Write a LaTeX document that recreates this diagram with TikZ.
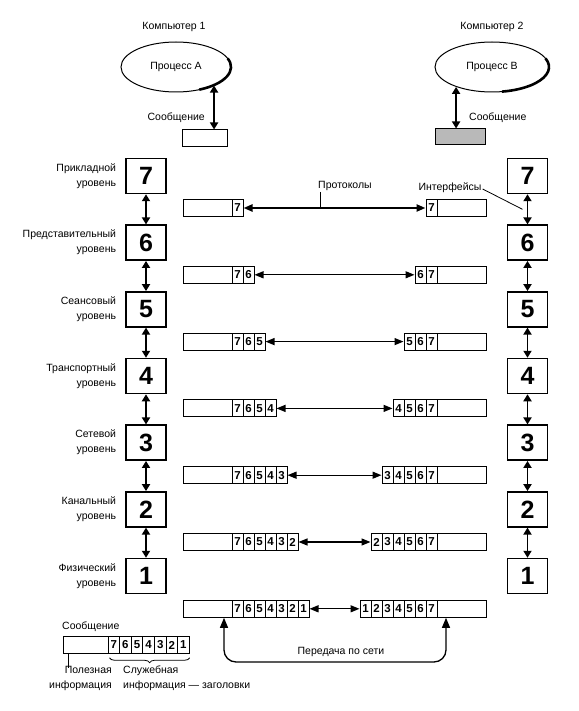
\documentclass[tikz,border=0pt]{standalone}
\usepackage{fontspec}
\setmainfont{Liberation Sans}
\usetikzlibrary{arrows.meta,shapes.geometric,decorations.pathreplacing,calc}
\begin{document}
\begin{tikzpicture}[x=1pt,y=1pt]
\tikzset{
 lay/.style={draw, line width=1.5pt, minimum width=40pt, minimum height=35pt, inner sep=0pt, font=\fontsize{25}{25}\selectfont\bfseries},
 pay/.style={draw, line width=1pt, minimum width=49pt, minimum height=17pt, inner sep=0pt},
 cellb/.style={draw, line width=1pt, minimum width=11pt, minimum height=17pt, inner sep=0pt, font=\fontsize{11.5}{11.5}\selectfont\bfseries},
 lbl/.style={inner sep=1pt, font=\fontsize{10.5}{15}\selectfont},
 harrow/.style={line width=1.3pt, {Triangle[length=9pt,width=7pt]}-{Triangle[length=9pt,width=7pt]}},
 varrow/.style={line width=1.8pt, {Triangle[length=7pt,width=8pt]}-{Triangle[length=7pt,width=8pt]}},
 proc/.style={ellipse, draw, line width=1pt, inner sep=0pt, font=\fontsize{10.5}{12}\selectfont},
 thin/.style={line width=0.8pt},
}
\useasboundingbox (0,0) rectangle (578,-711);

% top
\node[lbl] (K1) at (174,-27) {Компьютер 1};
\node[lbl] (K2) at (492,-27) {Компьютер 2};
\node[proc, minimum width=110pt, minimum height=50pt] (EA) at (176,-67) {Процесс А};
\node[proc, minimum width=114pt, minimum height=50pt] (EB) at (492,-67) {Процесс В};
\draw[line width=2.6pt] (EA.center) ++(20:55pt and 25pt) arc[start angle=20, end angle=-65, x radius=55pt, y radius=25pt];
\draw[line width=2.6pt] (EB.center) ++(20:57pt and 25pt) arc[start angle=20, end angle=-80, x radius=57pt, y radius=25pt];
\node[draw, line width=1pt, minimum width=45pt, minimum height=17pt, inner sep=0pt] (MA) at (204.5,-138.5) {};
\node[draw, line width=1pt, fill=gray!55, minimum width=50pt, minimum height=16pt, inner sep=0pt] (MB) at (460,-137) {};
\draw[varrow] (EA.-26.6) -- (EA.-26.6 |- MA.north);
\draw[varrow] (EB.-151.7) -- (EB.-151.7 |- MB.north);
\node[lbl, anchor=east] (SA) at (206,-118) {Сообщение};
\node[lbl, anchor=west] (SB) at (468,-118) {Сообщение};

% layers
\foreach \k/\nm in {7/Прикладной,6/Представительный,5/Сеансовый,4/Транспортный,3/Сетевой,2/Канальный,1/Физический} {
  \pgfmathsetmacro{\yb}{-(176+(7-\k)*66.67)}
  \node[lay] (L\k) at (146,\yb) {\k};
  \node[lay] (R\k) at (527.5,\yb) {\k};
  \node[lbl, anchor=east, align=right] (T\k) at ($(L\k.west)+(-8,0)$) {\nm\\уровень};
}
\foreach \k [evaluate=\k as \m using int(\k-1)] in {7,...,2} {
  \draw[varrow] (L\k.south) -- (L\m.north);
  \draw[varrow] (R\k.south) -- (R\m.north);
}

% message rows
\foreach \k in {7,...,1} {
  \pgfmathsetmacro{\yr}{-(208+(7-\k)*66.8)}
  \node[pay] (PL\k) at (207.5,\yr) {};
  \node[pay] (PR\k) at (461.5,\yr) {};
  \foreach \d in {\k,...,7} {
    \pgfmathsetmacro{\xc}{232+11*(7-\d)+5.5}
    \node[cellb] (CL\k-\d) at (\xc,\yr) {\d};
    \pgfmathsetmacro{\xr}{437-11*(7-\d)-5.5}
    \node[cellb] (CR\k-\d) at (\xr,\yr) {\d};
  }
  \pgfmathsetmacro{\lw}{\k==7 ? 2.2 : 1.3}
  \draw[harrow, line width=\lw pt] (CL\k-\k.east) -- (CR\k-\k.west);
}

% protocol / interface labels
\node[lbl] (PRT) at (345,-186) {Протоколы};
\coordinate (pt) at ($(PRT.south west)+(3,0)$);
\draw[thin] (pt) -- (pt |- PL7.center);
\node[lbl] (IF) at (450,-188) {Интерфейсы};
\coordinate (ift) at ($(R7.south)!0.5!(R6.north)+(-5,0)$);
\draw[thin] ($(IF.east)+(0,-1)$) -- (ift);

% network transfer
\coordinate (ca) at ($(PL1.south)+(16.5,0)$);
\coordinate (cb) at ($(PR1.south)+(-15.5,0)$);
\coordinate (cbot) at (0,-662);
\draw[line width=1.3pt, {Triangle[length=10pt,width=8pt]}-{Triangle[length=10pt,width=8pt]}, rounded corners=12pt]
  (ca) -- (ca |- cbot) -- (cb |- cbot) -- (cb);
\node[lbl] (NET) at (341,-652) {Передача по сети};

% legend
\node[lbl, anchor=west] (LS) at (61,-627) {Сообщение};
\node[draw, line width=1pt, minimum width=45pt, minimum height=16.5pt, inner sep=0pt] (LPL) at (85.5,-645) {};
\foreach \d in {1,...,7} {
  \pgfmathsetmacro{\xl}{108+11.6*(7-\d)+5.8}
  \node[cellb, minimum width=11.6pt, minimum height=16.5pt] (LC\d) at (\xl,-645) {\d};
}
\coordinate (lt) at ($(LPL.south west)+(6,0)$);
\coordinate (lt2) at ($(lt)+(0,-14)$);
\draw[thin] (lt) -- (lt2);
\draw[thin, decorate, decoration={brace, mirror, amplitude=5pt}] ($(LC7.south west)+(2,-4)$) -- ($(LC1.south east)+(0,-4)$);
\node[lbl, anchor=north east, align=right] (LP) at (113,-665) {Полезная\\информация};
\node[lbl, anchor=north west, align=left] (LSI) at (122,-665) {Служебная\\информация — заголовки};
\end{tikzpicture}
\end{document}
